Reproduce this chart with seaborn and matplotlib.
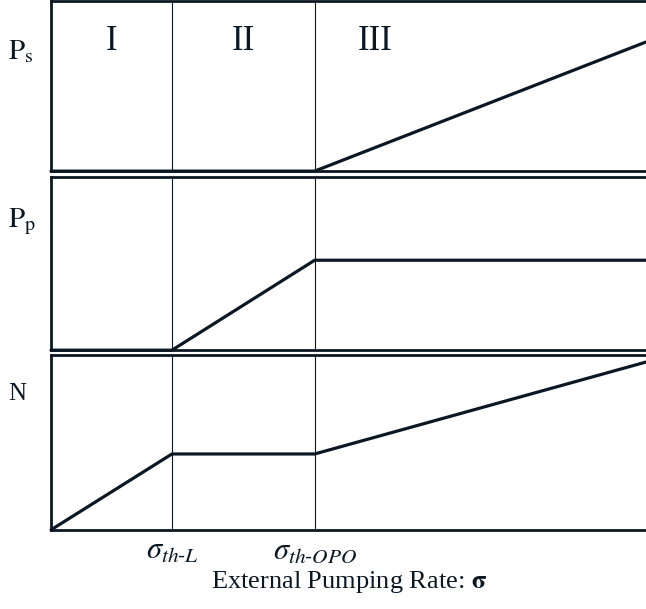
import numpy as np
import pandas as pd
import matplotlib
matplotlib.use("Agg")
import matplotlib.pyplot as plt
import seaborn as sns

# pumping rate axis (threshold positions in arbitrary units)
sigma = [0.0, 1.0, 2.18, 4.92]
ps = [0.0, 0.0, 0.0, 0.76]      # signal power
pp = [0.0, 0.0, 0.52, 0.52]     # pump power
n = [0.0, 0.434, 0.434, 0.96]   # inversion
regions = ["I", "II", "III"]
region_x = [0.5, 1.59, 2.68]
panel_labels = [r"$\mathrm{P_s}$", r"$\mathrm{P_p}$", "N"]
tick_pos = [1.0, 2.18]
tick_labels = [r"$\sigma_{th\text{-}L}$", r"$\sigma_{th\text{-}OPO}$"]

sns.set_theme(style="white")
plt.rcParams["font.family"] = ["Liberation Serif", "DejaVu Serif"]
plt.rcParams["mathtext.fontset"] = "stix"

ink = "#0b1824"
df = pd.DataFrame({
    "x": sigma * 3,
    "y": ps + pp + n,
    "panel": ["Ps"] * 4 + ["Pp"] * 4 + ["N"] * 4,
})

fig = plt.figure(figsize=(6.46, 6.09), dpi=100)
boxes = [(0.079, 0.719, 0.921, 0.279),
         (0.079, 0.425, 0.921, 0.284),
         (0.079, 0.130, 0.921, 0.287)]
axes = [fig.add_axes(b) for b in boxes]

for ax, key in zip(axes, ["Ps", "Pp", "N"]):
    sns.lineplot(data=df[df.panel == key], x="x", y="y", ax=ax,
                 color=ink, lw=2.3, clip_on=False, zorder=5)
    ax.set_xlim(0, 4.92)
    ax.set_ylim(0, 1)
    for t in tick_pos:
        ax.axvline(t, color=ink, lw=0.8)
    for s in ["top", "left", "bottom"]:
        ax.spines[s].set_color(ink)
        ax.spines[s].set_linewidth(2.0)
    ax.spines["right"].set_visible(False)
    ax.set_yticks([])
    ax.set_ylabel("")
    ax.set_xlabel("")
    ax.set_xticks([])

fig.text(0.012, 1 - 52 / 609, panel_labels[0], fontsize=21, color=ink, va="center")
fig.text(0.012, 1 - 222 / 609, panel_labels[1], fontsize=21, color=ink, va="center")
fig.text(0.012, 1 - 394 / 609, panel_labels[2], fontsize=18, color=ink, va="center")

for rx, r in zip(region_x, regions):
    axes[0].text(rx, 0.76, r, fontsize=25, color=ink, ha="center", va="center")

axes[2].set_xticks(tick_pos)
axes[2].set_xticklabels(tick_labels, fontsize=22, color=ink)
axes[2].tick_params(axis="x", length=0, pad=5)
axes[2].set_xlabel("External Pumping Rate: " + r"$\mathbf{\sigma}$",
                   fontsize=19, color=ink, labelpad=2)

fig.savefig("out.png", dpi=100)
